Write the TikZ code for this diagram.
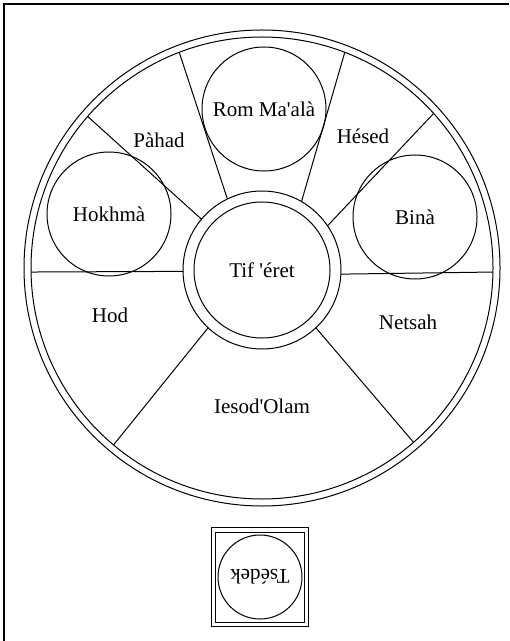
\documentclass[tikz,border=0pt]{standalone}
\usepackage{fontspec}
\setmainfont{Liberation Serif}

\tikzset{
  sefira/.style={circle,draw,inner sep=0pt,outer sep=0pt,minimum size=#1},
  sefira/.default=62pt,
  sefname/.style={inner sep=0pt}
}

\begin{document}
\begin{tikzpicture}[x=0.5pt,y=-0.5pt,line width=0.5pt,font=\fontsize{10.5}{12}\selectfont]
\useasboundingbox (0,0) rectangle (509,641);

% Draw the frame
\draw[line width=0.8pt] (4,641) -- (4,4) -- (509,4);

% Draw the outer ring
\node[sefira=238pt] (ringout) at (262,268) {};
\node[sefira=231pt] (ringin) at (262,268) {};

% Draw the centre
\node[sefira=79pt] (tifout) at (262,270) {};
\node[sefira=68pt] (tif) at (262,270) {Tif \textquotesingle éret};

% Draw the spokes
\foreach \a/\b in {140/139,116/111,60/69,34/42,181/181,357/359,227/230,313/311}
  \draw (tifout.\a) -- (ringin.\b);

% Draw the three upper circles
\node[sefira] (rom) at (264,109) {Rom Ma\textquotesingle alà};
\node[sefira] (hokhma) at (109,214) {Hokhmà};
\node[sefira] (bina) at (415,217) {Binà};

% Labels for the sectors
\node[sefname] (pahad) at (159,140) {Pàhad};
\node[sefname] (hesed) at (363,136) {Hésed};
\node[sefname] (hod) at (110,315) {Hod};
\node[sefname] (netsah) at (408,322) {Netsah};
\node[sefname] (iesod) at (262,406) {Iesod\textquotesingle Olam};

% Draw the box below
\node[draw,inner sep=0pt,minimum width=48.5pt,minimum height=49.5pt] (boxout) at (260,577) {};
\node[draw,inner sep=0pt,minimum width=44.5pt,minimum height=45pt] (boxin) at (260,577) {};
\node[sefira=42pt,rotate=180] (tsedek) at (260,577) {Tsédek};

\end{tikzpicture}
\end{document}
